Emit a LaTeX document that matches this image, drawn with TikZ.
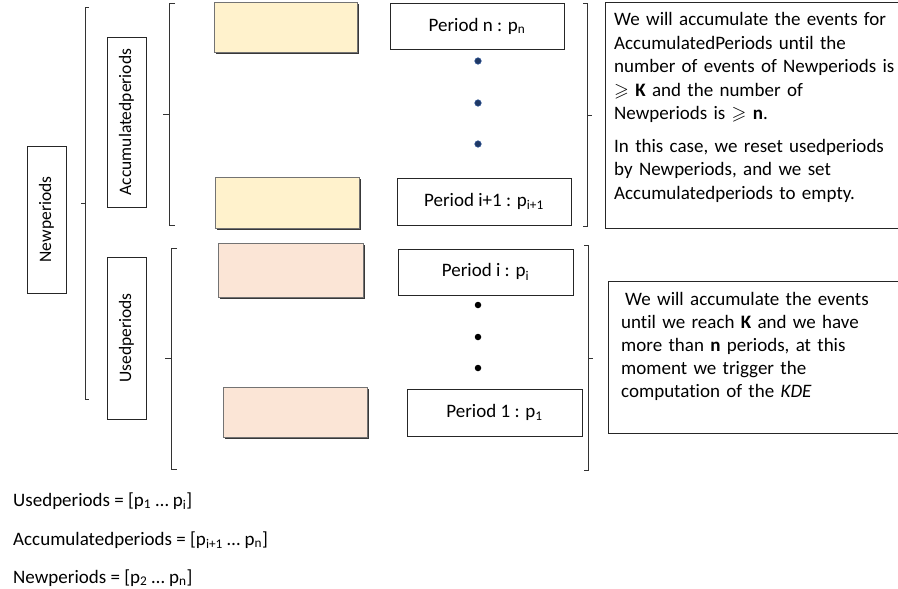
\documentclass[tikz,border=0pt]{standalone}
\usepackage{fontspec}
\setmainfont{Carlito}[Ligatures=NoCommon]
\usepackage{amssymb}
\definecolor{accfill}{HTML}{FFF2CC}
\definecolor{usedfill}{HTML}{FBE5D6}
\definecolor{dotblue}{HTML}{1F3864}
\definecolor{dotedge}{HTML}{2F5597}
\begin{document}
\begin{tikzpicture}[x=1pt,y=-1pt,
  every node/.style={font=\fontsize{19}{23.5}\selectfont},
  labelbox/.style={draw=black!85, line width=0.8pt, inner sep=0pt, rotate=90, minimum height=39,
    font=\fontsize{17.5}{21}\selectfont},
  periodbox/.style={draw=black!85, line width=0.8pt, inner sep=0pt, minimum width=175, minimum height=46},
  shadowbox/.style={draw=black!55, line width=0.6pt, inner sep=0pt, minimum width=144, minimum height=50,
    preaction={fill=black!78, transform canvas={shift={(2pt,-2pt)}}}},
  accbox/.style={shadowbox, fill=accfill},
  usedbox/.style={shadowbox, fill=usedfill},
  notebox/.style={draw=black!85, line width=0.8pt, inner sep=0pt, anchor=north west},
  notetext/.style={anchor=base west, inner sep=0pt, text width=300, align=left},
  bracket/.style={draw=black!80, line width=0.8pt},
  topdot/.style={circle, fill=dotblue, draw=dotedge, line width=0.6pt, minimum size=6.5, inner sep=0pt},
  botdot/.style={circle, fill=black, minimum size=6.5, inner sep=0pt}
]
\useasboundingbox (0,0) rectangle (898,589);

% rotated label boxes
\node[labelbox, minimum width=147] (newp) at (46.5,219.5) {Newperiods};
\node[labelbox, minimum width=170] (accp) at (126.5,122) {Accumulatedperiods};
\node[labelbox, minimum width=162] (usedp) at (126.5,338) {Usedperiods};

% brackets
\draw[bracket] (89,7) -- (85,7) -- (85,399) -- (89,399);
\draw[bracket] (85,203) -- (81,203);
\draw[bracket] (175,3) -- (169,3) -- (169,225) -- (175,225);
\draw[bracket] (169,114) -- (163,114);
\draw[bracket] (177,248) -- (171,248) -- (171,469) -- (177,469);
\draw[bracket] (171,358) -- (165,358);
\draw[bracket] (583,3) -- (587,3) -- (587,226) -- (583,226);
\draw[bracket] (587,115) -- (592,115);
\draw[bracket] (584,245) -- (588,245) -- (588,470) -- (584,470);
\draw[bracket] (588,358) -- (593,358);

% coloured boxes
\node[accbox, minimum width=143] (acc1) at (285.5,27) {};
\node[accbox, minimum height=51] (acc2) at (287,202.5) {};
\node[usedbox, minimum width=145, minimum height=54] (used1) at (290.5,270) {};
\node[usedbox] (used2) at (295,412) {};

% period boxes
\node[periodbox, minimum width=174] (pn) at (477,26) {Period n : p\textsubscript{n}};
\node[periodbox, minimum width=174, minimum height=47] (pi1) at (484,201.5) {Period i+1 : p\textsubscript{i+1}};
\node[periodbox] (pi) at (485.5,272) {Period i : p\textsubscript{i}};
\node[periodbox, minimum height=47] (p1) at (494.5,412.5) {Period 1 : p\textsubscript{1}};

% dots
\node[topdot] (td1) at (478,61) {};
\node[topdot] (td2) at (478,103) {};
\node[topdot] (td3) at (478,144) {};
\node[botdot] (bd1) at (478,305) {};
\node[botdot] (bd2) at (478,337) {};
\node[botdot] (bd3) at (478,368) {};

% note boxes
\node[notebox, minimum width=300, minimum height=226] (note1) at (605,2) {};
\node[notetext] (note1text) at (614,26) {We will accumulate the events for\\
AccumulatedPeriods until the\\
number of events of Newperiods is\\
$\geqslant$ \textbf{K} and the number of\\
Newperiods is $\geqslant$ \textbf{n}.\\[9pt]
In this case, we reset usedperiods\\
by Newperiods, and we set\\
Accumulatedperiods to empty.};

\node[notebox, minimum width=300, minimum height=152] (note2) at (608,281) {};
\node[notetext, font=\fontsize{19}{23}\selectfont] (note2text) at (621,305) {\hspace*{4pt}We will accumulate the events\\
until we reach \textbf{K} and we have\\
more than \textbf{n} periods, at this\\
moment we trigger the\\
computation of the \textit{KDE}};

% definitions
\node[anchor=base west, inner sep=0pt] (defused) at (13,506) {Usedperiods = [p\textsubscript{1} … p\textsubscript{i}]};
\node[anchor=base west, inner sep=0pt] (defacc) at (13,545) {Accumulatedperiods = [p\textsubscript{i+1} … p\textsubscript{n}]};
\node[anchor=base west, inner sep=0pt] (defnew) at (13,583) {Newperiods = [p\textsubscript{2} … p\textsubscript{n}]};
\end{tikzpicture}
\end{document}
